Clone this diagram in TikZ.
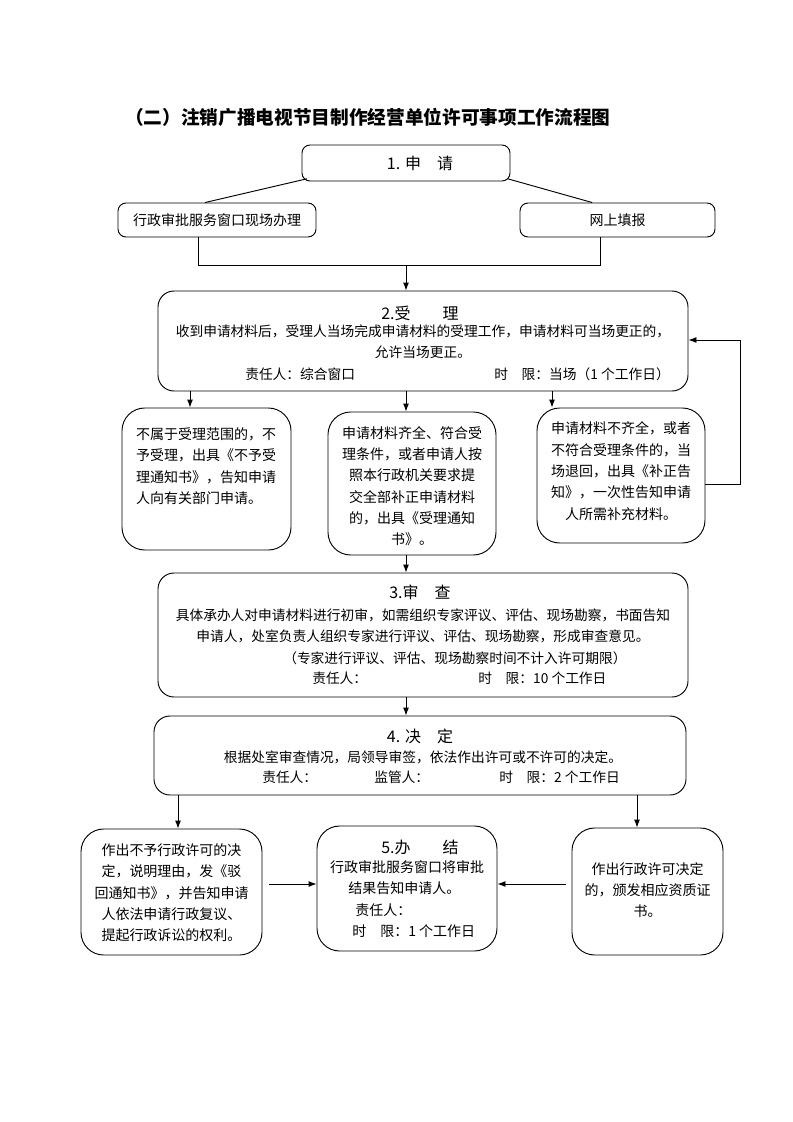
\documentclass[tikz,border=0pt]{standalone}
\usepackage{fontspec}
\setmainfont{Noto Sans CJK SC}
\usepackage{xcolor}
\usetikzlibrary{arrows.meta}

\begin{document}
\begin{tikzpicture}[x=0.75pt,y=-0.75pt,
    box/.style={draw, line width=0.7pt, inner sep=0pt},
    stepbox/.style={box, rounded corners=12pt},
    sidebox/.style={box, rounded corners=17pt},
    txt/.style={inner sep=0pt, font=\fontsize{10.5}{16}\selectfont},
    body/.style={inner sep=0pt, font=\fontsize{10.3}{15.75}\selectfont},
    head/.style={inner sep=0pt, font=\fontsize{12}{14}\selectfont},
    ln/.style={line width=0.7pt},
    arr/.style={line width=0.7pt, -{Latex[length=6pt,width=4.5pt]}}]
    \useasboundingbox (0,0) rectangle (793,1122);
    \node[inner sep=0pt, anchor=west, font=\fontsize{14}{16}\selectfont\bfseries] at (125,117) (title) {（二）注销广播电视节目制作经营单位许可事项工作流程图};

    \node[box, rounded corners=6pt, minimum width=156pt, minimum height=27pt] at (406,163) (apply) {};
    \node[head] at (420,163) (applyt) {1. 申　请};
    \node[box, rounded corners=6pt, minimum width=148.5pt, minimum height=25.5pt] at (217,220) (win) {};
    \node[txt] at (217,220) (wint) {行政审批服务窗口现场办理};
    \node[box, rounded corners=6pt, minimum width=146.25pt, minimum height=25.5pt] at (617.5,220) (web) {};
    \node[txt] at (617.5,220) (webt) {网上填报};

    \node[stepbox, minimum width=397.5pt, minimum height=75pt] at (423,341) (accept) {};
    \node[head] at (420,313) (acceptt) {2.受　　理};
    \node[body, align=center] at (423,341.5) (acceptb) {收到申请材料后，受理人当场完成申请材料的受理工作，申请材料可当场更正的，\\允许当场更正。};
    \node[body, anchor=west] at (245,374) (acceptr) {责任人：综合窗口};
    \node[body, anchor=west] at (494,374) (accepts) {时　限：当场（1 个工作日）};

    \node[sidebox, minimum width=126.75pt, minimum height=106.5pt] at (206.5,479) (na) {};
    \node[txt, align=left] at (206,466) (nat) {不属于受理范围的，不\\予受理，出具《不予受\\理通知书》，告知申请\\人向有关部门申请。};
    \node[sidebox, minimum width=126pt, minimum height=107.25pt] at (412,483.5) (nb) {};
    \node[txt, align=center] at (412,486) (nbt) {申请材料齐全、符合受\\理条件，或者申请人按\\照本行政机关要求提\\交全部补正申请材料\\的，出具《受理通知\\书》。};
    \node[sidebox, minimum width=126pt, minimum height=101.25pt] at (621,475.5) (nc) {};
    \node[txt, align=center] at (621,471) (nct) {申请材料不齐全，或者\\不符合受理条件的，当\\场退回，出具《补正告\\知》，一次性告知申请\\人所需补充材料。};

    \node[stepbox, minimum width=397.5pt, minimum height=93pt] at (423,635) (review) {};
    \node[head] at (420,592) (reviewt) {3.审　查};
    \node[body, align=center] at (423,626) (reviewb) {具体承办人对申请材料进行初审，如需组织专家评议、评估、现场勘察，书面告知\\申请人，处室负责人组织专家进行评议、评估、现场勘察，形成审查意见。};
    \node[body, anchor=west] at (283,658) (reviewn) {（专家进行评议、评估、现场勘察时间不计入许可期限）};
    \node[body, anchor=west] at (312,678) (reviewr) {责任人：};
    \node[body, anchor=west] at (478,678) (reviews) {时　限：10 个工作日};

    \node[stepbox, minimum width=399pt, minimum height=59.25pt] at (420,755.5) (decide) {};
    \node[head] at (420,736) (decidet) {4. 决　定};
    \node[body] at (423,757) (decideb) {根据处室审查情况，局领导审签，依法作出许可或不许可的决定。};
    \node[body, anchor=west] at (262,777) (decider) {责任人：};
    \node[body, anchor=west] at (374,777) (decidem) {监管人：};
    \node[body, anchor=west] at (499,777) (decides) {时　限：2 个工作日};

    \node[sidebox, minimum width=135.75pt, minimum height=94.5pt] at (171.5,892) (nl) {};
    \node[txt, align=center] at (171.5,893) (nlt) {作出不予行政许可的决\\定，说明理由，发《驳\\回通知书》，并告知申请\\人依法申请行政复议、\\提起行政诉讼的权利。};
    \node[sidebox, minimum width=135pt, minimum height=93.75pt] at (407,888.5) (nm) {};
    \node[head] at (420,847) (nmt) {5.办　　结};
    \node[txt] at (407,867) (nmb) {行政审批服务窗口将审批};
    \node[txt, anchor=west] at (348,888) (nmc) {结果告知申请人。};
    \node[txt, anchor=west] at (355,910) (nmr) {责任人：};
    \node[txt, anchor=west] at (352,931) (nms) {时　限：1 个工作日};
    \node[sidebox, minimum width=113.25pt, minimum height=95.25pt] at (647.5,891.5) (nr) {};
    \node[txt, align=center] at (647.5,890) (nrt) {作出行政许可决定\\的，颁发相应资质证\\书。};

    \coordinate (jl) at (198,265);
    \coordinate (jr) at (600,265);
    \coordinate (mid) at (406,265);
    \coordinate (xa) at (190,0);
    \coordinate (xc) at (552,0);
    \coordinate (xl) at (178,0);
    \coordinate (xr) at (637,0);
    \coordinate (fb) at (740,340);
    \coordinate (hy) at (0,884);

    \draw[ln] ([xshift=4pt,yshift=2pt]apply.south west) -- ([xshift=-9pt]win.north);
    \draw[ln] ([xshift=-2pt,yshift=2pt]apply.south east) -- ([xshift=-19pt]web.north);
    \draw[ln] (win.south -| jl) -- (jl) -- (jr) -- (web.south -| jr);
    \draw[arr] (mid) -- (accept.north -| mid);
    \draw[arr] (accept.south -| xa) -- (na.north -| xa);
    \draw[arr] (accept.south -| mid) -- (nb.north -| mid);
    \draw[arr] (accept.south -| xc) -- (nc.north -| xc);
    \draw[arr] ([yshift=-7pt]nc.east) -| (fb) -- (accept.east |- fb);
    \draw[arr] (nb.south -| mid) -- (review.north -| mid);
    \draw[arr] (review.south -| mid) -- (decide.north -| mid);
    \draw[arr] (decide.south -| xl) -- (nl.north -| xl);
    \draw[arr] (decide.south -| xr) -- (nr.north -| xr);
    \draw[arr, shorten <=5pt] (nl.east |- hy) -- (nm.west |- hy);
    \draw[arr, shorten <=4pt] (nr.west |- hy) -- (nm.east |- hy);
\end{tikzpicture}
\end{document}
